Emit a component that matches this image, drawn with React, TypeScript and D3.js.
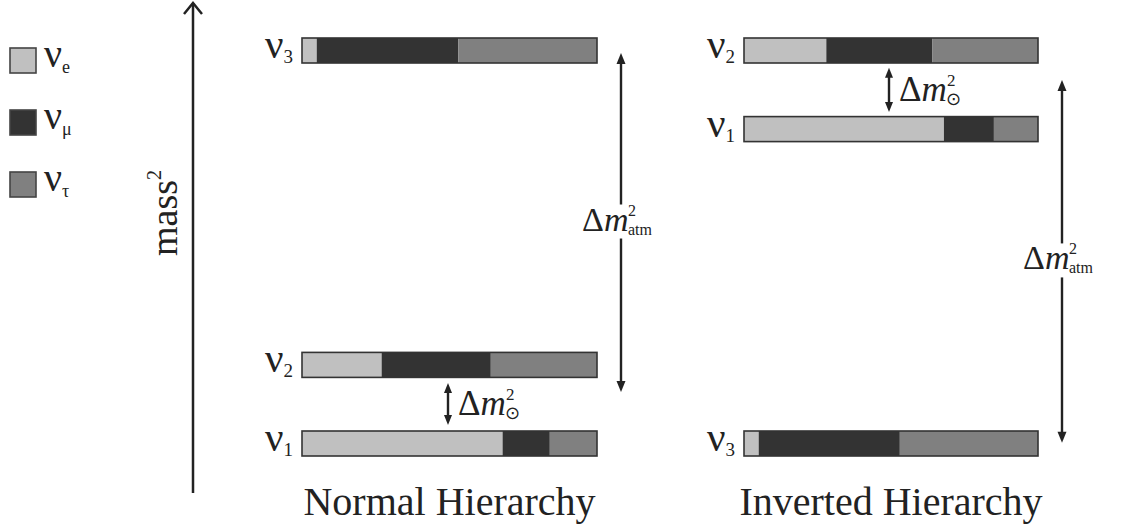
import React from "react";
import * as d3 from "d3";

// flavour content of each mass state, fractions (e, mu, tau)
const flavours = ["e", "μ", "τ"];
const flavourColors = ["#c0c0c0", "#333333", "#808080"];

const normalStates = ["3", "2", "1"];
const normalMass = [1, 0.2, 0];
const normalMix = [
  [0.05, 0.48, 0.47],
  [0.27, 0.37, 0.36],
  [0.68, 0.16, 0.16],
];

const invertedStates = ["2", "1", "3"];
const invertedMass = [1, 0.8, 0];
const invertedMix = [
  [0.28, 0.36, 0.36],
  [0.68, 0.17, 0.15],
  [0.05, 0.48, 0.47],
];

// splitting arrows, in mass units [top, bottom]
const normalAtm = [0.962, 0.099];
const normalSol = [0.122, 0.015];
const invertedAtm = [0.893, -0.03];
const invertedSol = [0.924, 0.812];

const titles = ["Normal Hierarchy", "Inverted Hierarchy"];

const W = 1121;
const H = 529;
const barH = 25;
const serif = "'Liberation Serif', 'Times New Roman', serif";

const y = d3.scaleLinear().domain([0, 1]).range([431, 38]);

type PanelProps = {
  x0: number;
  x1: number;
  states: string[];
  mass: number[];
  mix: number[][];
  atm: number[];
  sol: number[];
  atmX: number;
  solX: number;
  title: string;
};

const DoubleArrow = ({ x, y1, y2, head, w }: { x: number; y1: number; y2: number; head: number; w: number }) => (
  <g>
    <line x1={x} x2={x} y1={y1 + head - 1} y2={y2 - head + 1} stroke="#222" strokeWidth={2.4} />
    <path d={`M${x},${y1} L${x - w},${y1 + head} L${x + w},${y1 + head} Z`} fill="#222" />
    <path d={`M${x},${y2} L${x - w},${y2 - head} L${x + w},${y2 - head} Z`} fill="#222" />
  </g>
);

const Panel = ({ x0, x1, states, mass, mix, atm, sol, atmX, solX, title }: PanelProps) => {
  const x = d3.scaleLinear().domain([0, 1]).range([x0, x1]);
  const atmTop = y(atm[0]);
  const atmBot = y(atm[1]);
  const atmMid = (atmTop + atmBot) / 2;
  const solTop = y(sol[0]);
  const solBot = y(sol[1]);
  const solMid = (solTop + solBot) / 2;
  return (
    <g>
      {states.map((s, i) => {
        const top = y(mass[i]);
        const cum = d3.cumsum(mix[i]);
        return (
          <g key={s}>
            {mix[i].map((f, j) => (
              <rect
                key={j}
                x={x(cum[j] - f)}
                y={top}
                width={x(cum[j]) - x(cum[j] - f)}
                height={barH}
                fill={flavourColors[j]}
              />
            ))}
            <rect x={x0} y={top} width={x1 - x0} height={barH} fill="none" stroke="#333" strokeWidth={1.6} />
            <text x={x0 - 9} y={top + 20} textAnchor="end" fontFamily={serif} fontSize={41} fill="#222">
              ν<tspan fontSize={19} dy={5}>{s}</tspan>
            </text>
          </g>
        );
      })}
      <DoubleArrow x={atmX} y1={atmTop} y2={atmBot} head={11} w={4.5} />
      <rect x={atmX - 40} y={atmMid - 18} width={82} height={34} fill="#fff" />
      <text x={atmX - 39} y={atmMid + 8} fontFamily={serif} fontSize={34} fill="#222">
        Δ<tspan fontStyle="italic">m</tspan>
      </text>
      <text x={atmX + 7} y={atmMid - 7} fontFamily={serif} fontSize={16} fill="#222">2</text>
      <text x={atmX + 7} y={atmMid + 12} fontFamily={serif} fontSize={16} fill="#222">atm</text>

      <DoubleArrow x={solX} y1={solTop} y2={solBot} head={10} w={4} />
      <text x={solX + 10} y={solMid + 11} fontFamily={serif} fontSize={35} fill="#222">
        Δ<tspan fontStyle="italic">m</tspan>
      </text>
      <text x={solX + 58} y={solMid - 4} fontFamily={serif} fontSize={17} fill="#222">2</text>
      <text x={solX + 57} y={solMid + 15} fontFamily="'DejaVu Sans', sans-serif" fontSize={18} fill="#222">⊙</text>

      <text x={(x0 + x1) / 2} y={515} textAnchor="middle" fontFamily={serif} fontSize={40} fill="#222">
        {title}
      </text>
    </g>
  );
};

const App = () => {
  const legendY = d3.scaleBand().domain(flavours).range([48, 48 + 3 * 62]);
  return (
    <svg width={W} height={H} style={{ position: "absolute", left: 0, top: 0, background: "#fff" }}>
      {flavours.map((f, i) => (
        <g key={f}>
          <rect x={10} y={legendY(f)} width={26} height={25} fill={flavourColors[i]} stroke="#444" strokeWidth={1.6} />
          <text x={44} y={(legendY(f) as number) + 19} fontFamily={serif} fontSize={40} fill="#222">
            ν<tspan fontSize={18} dy={6}>{f}</tspan>
          </text>
        </g>
      ))}

      <line x1={193} x2={193} y1={493} y2={3} stroke="#222" strokeWidth={2.5} />
      <path d="M184,14 L193,3 L202,14" fill="none" stroke="#222" strokeWidth={2.5} />
      <text transform="translate(177,213) rotate(-90)" textAnchor="middle" fontFamily={serif} fontSize={38} fill="#222">
        mass<tspan fontSize={20} dy={-16}>2</tspan>
      </text>

      <Panel
        x0={302}
        x1={597}
        states={normalStates}
        mass={normalMass}
        mix={normalMix}
        atm={normalAtm}
        sol={normalSol}
        atmX={621}
        solX={448}
        title={titles[0]}
      />
      <Panel
        x0={744}
        x1={1038}
        states={invertedStates}
        mass={invertedMass}
        mix={invertedMix}
        atm={invertedAtm}
        sol={invertedSol}
        atmX={1062}
        solX={889}
        title={titles[1]}
      />
    </svg>
  );
};

export default App;
